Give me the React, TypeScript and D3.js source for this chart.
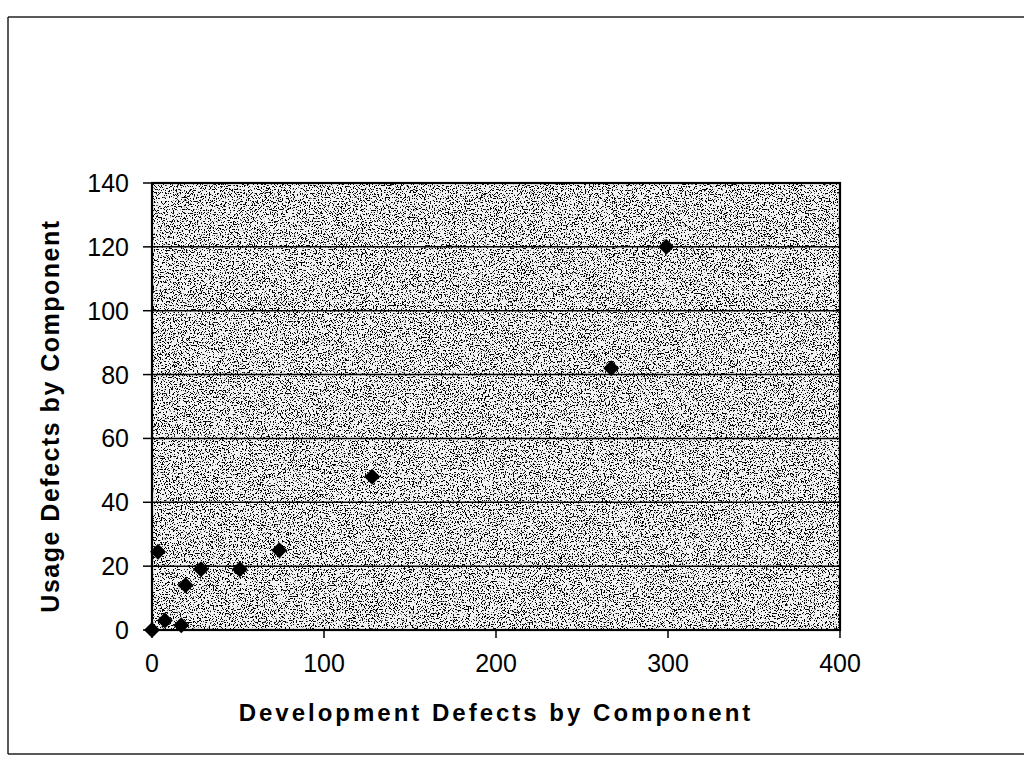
import React from "react";
import * as d3 from "d3";

const devDefects = [0, 3.5, 7.5, 17, 19.5, 28.5, 51, 74, 128, 267, 299];
const usageDefects = [0, 24.5, 3, 1.5, 14, 19, 19, 25, 48, 82, 120];
const xTicks = [0, 100, 200, 300, 400];
const yTicks = [0, 20, 40, 60, 80, 100, 120, 140];
const xTitle = "Development Defects by Component";
const yTitle = "Usage Defects by Component";

const W = 1024;
const H = 758;
const plot = { left: 152, right: 840, top: 183, bottom: 630 };

export default function App() {
  const x = d3.scaleLinear().domain([0, 400]).range([plot.left, plot.right]);
  const y = d3.scaleLinear().domain([0, 140]).range([plot.bottom, plot.top]);
  const diamond = d3.symbol(d3.symbolSquare, 128)() as string;
  const font = "'Liberation Sans', Arial, sans-serif";
  const points = devDefects.map((d, i) => ({ x: d, y: usageDefects[i] }));

  return (
    <svg
      width={W}
      height={H}
      style={{ position: "absolute", left: 0, top: 0, display: "block" }}
      fontFamily={font}
    >
      <defs>
        <filter id="stipple" x="0" y="0" width="100%" height="100%" filterUnits="objectBoundingBox">
          <feTurbulence type="fractalNoise" baseFrequency="0.75" numOctaves={3} seed={7} result="t" />
          <feColorMatrix
            in="t"
            type="matrix"
            values="0 0 0 0 0  0 0 0 0 0  0 0 0 0 0  1 0 0 0 0"
          />
          <feComponentTransfer>
            <feFuncA type="linear" slope={25} intercept={-14.2} />
          </feComponentTransfer>
        </filter>
      </defs>
      <rect width={W} height={H} fill="#fff" />
      {/* outer frame */}
      <line x1={8} y1={17} x2={1024} y2={17} stroke="#222" strokeWidth={1.5} />
      <line x1={8} y1={17} x2={8} y2={754} stroke="#222" strokeWidth={1.5} />
      <line x1={8} y1={754} x2={1024} y2={754} stroke="#222" strokeWidth={1.5} />

      {/* plot area background */}
      <rect
        x={plot.left}
        y={plot.top}
        width={plot.right - plot.left}
        height={plot.bottom - plot.top}
        fill="#f2f2f2"
      />
      <rect
        x={plot.left}
        y={plot.top}
        width={plot.right - plot.left}
        height={plot.bottom - plot.top}
        fill="#fff"
        filter="url(#stipple)"
      />

      {/* gridlines */}
      {yTicks
        .filter((t) => t > 0 && t < 140)
        .map((t) => (
          <line
            key={"g" + t}
            x1={plot.left}
            x2={plot.right}
            y1={y(t)}
            y2={y(t)}
            stroke="#000"
            strokeWidth={1.5}
          />
        ))}

      {/* plot border */}
      <rect
        x={plot.left}
        y={plot.top}
        width={plot.right - plot.left}
        height={plot.bottom - plot.top}
        fill="none"
        stroke="#000"
        strokeWidth={2.2}
      />

      {/* y ticks */}
      {yTicks.map((t) => (
        <g key={"y" + t}>
          <line x1={plot.left - 9} x2={plot.left} y1={y(t)} y2={y(t)} stroke="#000" strokeWidth={1.5} />
          <text
            x={129}
            y={y(t)}
            textAnchor="end"
            dominantBaseline="central"
            fontSize={25}
            fill="#000"
          >
            {t}
          </text>
        </g>
      ))}

      {/* x ticks */}
      {xTicks.map((t) => (
        <g key={"x" + t}>
          <line x1={x(t)} x2={x(t)} y1={plot.bottom} y2={plot.bottom + 8} stroke="#000" strokeWidth={1.5} />
          <text
            x={x(t)}
            y={663}
            textAnchor="middle"
            dominantBaseline="central"
            fontSize={25}
            fill="#000"
          >
            {t}
          </text>
        </g>
      ))}

      {/* points */}
      {points.map((p, i) => (
        <path
          key={"p" + i}
          d={diamond}
          transform={`translate(${x(p.x)},${y(p.y)}) rotate(45)`}
          fill="#000"
        />
      ))}

      {/* axis titles */}
      <text
        x={496}
        y={712}
        textAnchor="middle"
        dominantBaseline="central"
        fontSize={24}
        fontWeight="bold"
        letterSpacing={3}
        fill="#000"
      >
        {xTitle}
      </text>
      <text
        transform={`translate(50,416) rotate(-90)`}
        textAnchor="middle"
        dominantBaseline="central"
        fontSize={25}
        fontWeight="bold"
        letterSpacing={1.5}
        fill="#000"
      >
        {yTitle}
      </text>
    </svg>
  );
}
